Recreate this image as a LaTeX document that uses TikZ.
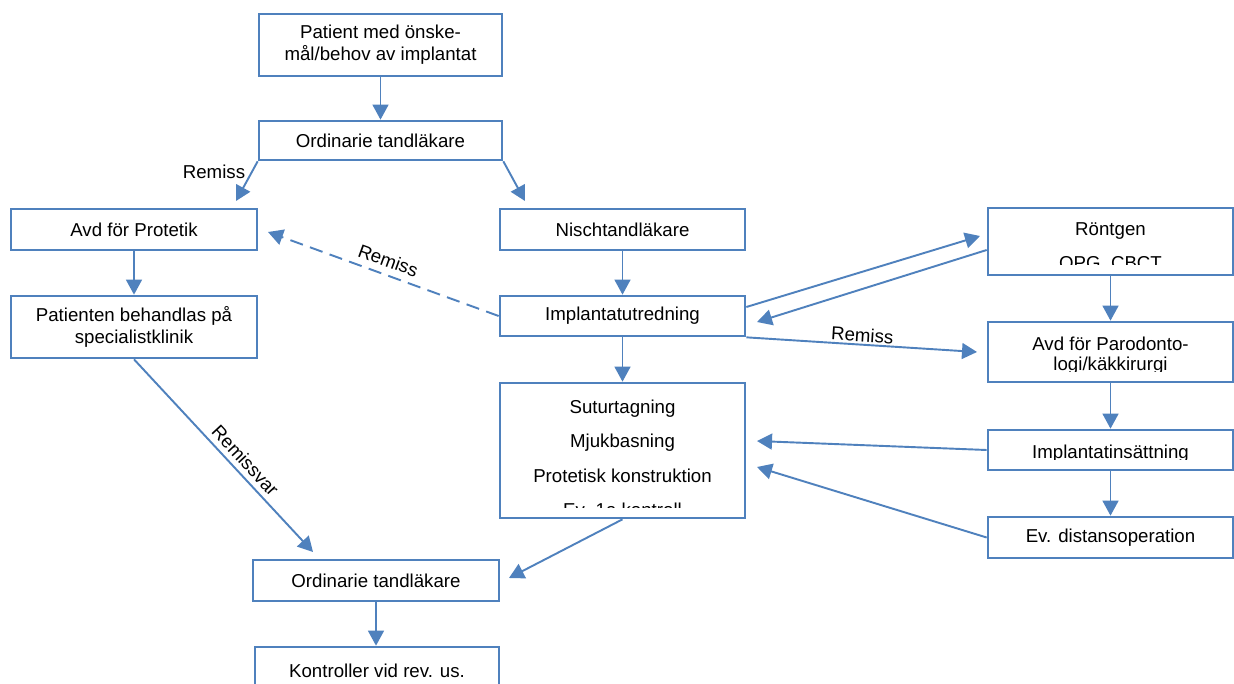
\documentclass[tikz,border=0pt]{standalone}
\usepackage{fontspec}
\setmainfont{Liberation Sans}
\usetikzlibrary{arrows.meta}
\definecolor{lineblue}{RGB}{79,129,189}
\begin{document}
\begin{tikzpicture}[x=0.6pt,y=-0.6pt,
  box/.style={draw=lineblue, line width=1.6pt, fill=white, inner sep=0pt, align=center,
              font=\fontsize{11.2}{13.2}\selectfont},
  txt/.style={font=\fontsize{11.2}{13.2}\selectfont, inner sep=0pt, anchor=base},
  arr/.style={draw=lineblue, line width=1.15pt, -{Triangle[length=9pt,width=9.5pt]}},
  lbl/.style={font=\fontsize{11.2}{13.2}\selectfont, inner sep=1pt}]
\clip (0,0) rectangle (1234,684);
\fill[white] (0,0) rectangle (1234,684);

% boxes
\node[box, minimum width=145.8pt, minimum height=37.2pt] (pat) at (380.5,45) {Patient med önske-\\mål/behov av implantat};
\node[box, minimum width=145.8pt, minimum height=23.4pt] (ord1) at (380.5,140.5) {Ordinarie tandläkare};
\node[box, minimum width=147.6pt, minimum height=24.6pt] (prot) at (134,229.5) {Avd för Protetik};
\node[box, minimum width=147pt, minimum height=24.6pt] (nisch) at (622.5,229.5) {Nischtandläkare};
\node[box, minimum width=147pt, minimum height=24pt] (impl) at (622.5,316) {Implantatutredning};
\node[box, minimum width=147.6pt, minimum height=37.2pt] (spec) at (134,327) {Patienten behandlas på\\specialistklinik};
\node[box, minimum width=147pt, minimum height=81pt] (sut) at (622.5,450.5) {};
\node[box, minimum width=147pt, minimum height=40.2pt] (rtg) at (1110.5,241.5) {};
\node[box, minimum width=147pt, minimum height=36pt] (paro) at (1110.5,352) {};
\node[box, minimum width=147pt, minimum height=24pt] (ins) at (1110.5,450) {};
\node[box, minimum width=147pt, minimum height=24.6pt] (dist) at (1110.5,537.5) {Ev. distansoperation};
\node[box, minimum width=147.6pt, minimum height=24.6pt] (ord2) at (376,580.5) {Ordinarie tandläkare};
\node[box, minimum width=146.4pt, minimum height=39.6pt] (kon) at (377,680) {};

% texts clipped by their text areas
\begin{scope}
  \clip (502,385) rectangle (743,507);
  \node[txt] (sutA) at (622.5,413) {Suturtagning};
  \node[txt] (sutB) at (622.5,447.5) {Mjukbasning};
  \node[txt] (sutC) at (622.5,482) {Protetisk konstruktion};
  \node[txt] (sutD) at (622.5,516.5) {Ev. 1a kontroll};
\end{scope}
\begin{scope}
  \clip (990,210) rectangle (1231,264);
  \node[txt] (rtgA) at (1110.5,235) {Röntgen};
  \node[txt] (rtgB) at (1110.5,269.5) {OPG, CBCT};
\end{scope}
\begin{scope}
  \clip (990,324) rectangle (1231,371.5);
  \node[txt] (paroA) at (1110.5,350.5) {Avd för Parodonto-};
  \node[txt] (paroB) at (1110.5,370) {logi/käkkirurgi};
\end{scope}
\begin{scope}
  \clip (990,432) rectangle (1231,459.5);
  \node[txt] (insA) at (1110.5,458) {Implantatinsättning};
\end{scope}
\node[txt] (konA) at (377,677) {Kontroller vid rev. us.};

% free arrow ends
\coordinate (tProt) at (236,201);
\coordinate (tNisch) at (525,201);
\coordinate (tProt2) at (268,232);
\coordinate (tRtg) at (980,236);
\coordinate (tImpl) at (757,322);
\coordinate (tParo) at (977,352);
\coordinate (tSut1) at (757,441);
\coordinate (tSut2) at (757,467);
\coordinate (tOrd2a) at (313,552);
\coordinate (tOrd2b) at (509,578);

% vertical arrows
\draw[arr] (pat.south) -- (ord1.north);
\draw[arr] (prot.south) -- (spec.north);
\draw[arr] (nisch.south) -- (impl.north);
\draw[arr] (impl.south) -- (sut.north);
\draw[arr] (rtg.south) -- (paro.north);
\draw[arr] (paro.south) -- (ins.north);
\draw[arr] (ins.south) -- (dist.north);
\draw[arr] (ord2.south) -- (ord2.south |- kon.north);

% other arrows
\draw[arr] (ord1.south west) -- (tProt);
\node[lbl] (lRemiss1) at (214,172) {Remiss};
\draw[arr] (ord1.south east) -- (tNisch);
\draw[arr, dash pattern=on 8pt off 4.5pt] (impl.west) -- node[lbl, sloped, above=3pt] (lRemiss2) {Remiss} (tProt2);
\draw[arr] ([yshift=5.4pt]impl.east) -- (tRtg);
\draw[arr] ([yshift=-5.1pt]rtg.west) -- (tImpl);
\draw[arr] (impl.south east) -- node[lbl, sloped, above=0pt, pos=0.5] (lRemiss3) {Remiss} (tParo);
\draw[arr] (ins.west) -- (tSut1);
\draw[arr] (dist.west) -- (tSut2);
\draw[arr] (spec.south) -- node[lbl, sloped, above=2pt, pos=0.57] (lRemissvar) {Remissvar} (tOrd2a);
\draw[arr] (sut.south) -- (tOrd2b);
\end{tikzpicture}
\end{document}
